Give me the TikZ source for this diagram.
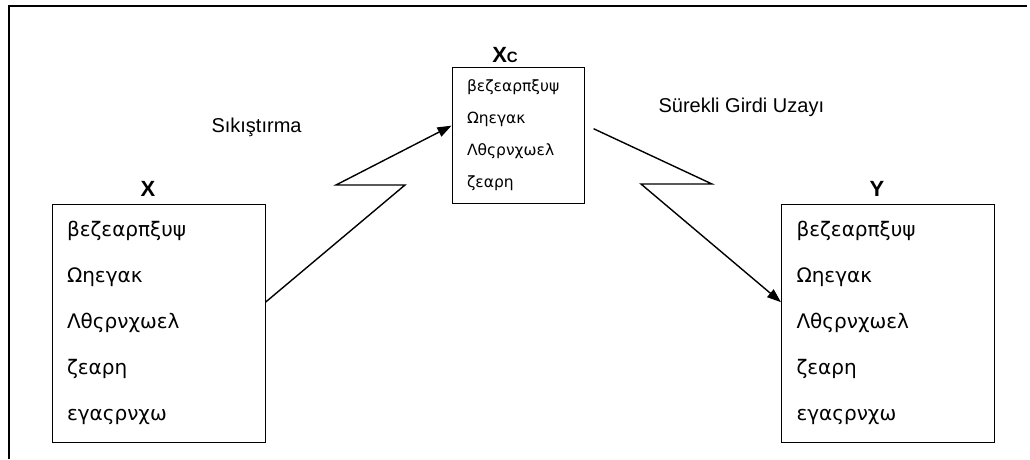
\documentclass[tikz,border=0pt]{standalone}
\usepackage{fontspec}
\setmainfont{Liberation Sans}
\newfontfamily\greekfont{DejaVu Sans}
\usetikzlibrary{arrows.meta}

\tikzset{
  listbox/.style={draw, line width=1pt, align=left, inner xsep=15pt, inner ysep=0pt},
  bigbox/.style={listbox, text width=183pt, minimum height=238pt, font=\greekfont\fontsize{20}{46}\selectfont},
  smallbox/.style={listbox, text width=102pt, minimum height=136pt, font=\greekfont\fontsize{15.5}{32}\selectfont},
  setname/.style={anchor=base, font=\bfseries\fontsize{22}{24}\selectfont},
  arclabel/.style={anchor=base west, font=\fontsize{20}{24}\selectfont},
  zigzag/.style={line width=1.4pt, -{Triangle[length=14pt,width=10pt]}}
}

\begin{document}
\begin{tikzpicture}[x=1pt,y=-1pt]

\useasboundingbox (0,0) rectangle (1030,459);
\draw[line width=2pt] (9,459) -- (9,6) -- (1027,6);

% the three sets
\node[bigbox] (boxX) at (158.5,323) {βεζεαρπξυψ\\ Ωηεγακ\\ Λθςρνχωελ\\ ζεαρη\\ εγαςρνχω};
\node[smallbox] (boxXc) at (518,135) {βεζεαρπξυψ\\ Ωηεγακ\\ Λθςρνχωελ\\ ζεαρη};
\node[bigbox] (boxY) at (888,323) {βεζεαρπξυψ\\ Ωηεγακ\\ Λθςρνχωελ\\ ζεαρη\\ εγαςρνχω};

\node[setname] (nameX) at (148,196) {X};
\node[setname] (nameXc) at (505,62) {X{\fontsize{15}{16}\selectfont C}};
\node[setname] (nameY) at (877,196) {Y};

% mappings
\node[arclabel] (lblcomp) at (208,132) {Sıkıştırma};
\node[arclabel] (lblcont) at (655,112) {Sürekli Girdi Uzayı};

\coordinate (zA1) at (405,185);
\coordinate (zA2) at (336,185);
\coordinate (zB1) at (712,184);
\coordinate (zB2) at (641,184);

\draw[zigzag] (boxX.11) -- (zA1) -- (zA2) -- (boxXc.172);
\draw[zigzag, shorten <=10pt] (boxXc.9) -- (zB1) -- (zB2) -- (boxY.169);

\end{tikzpicture}
\end{document}
